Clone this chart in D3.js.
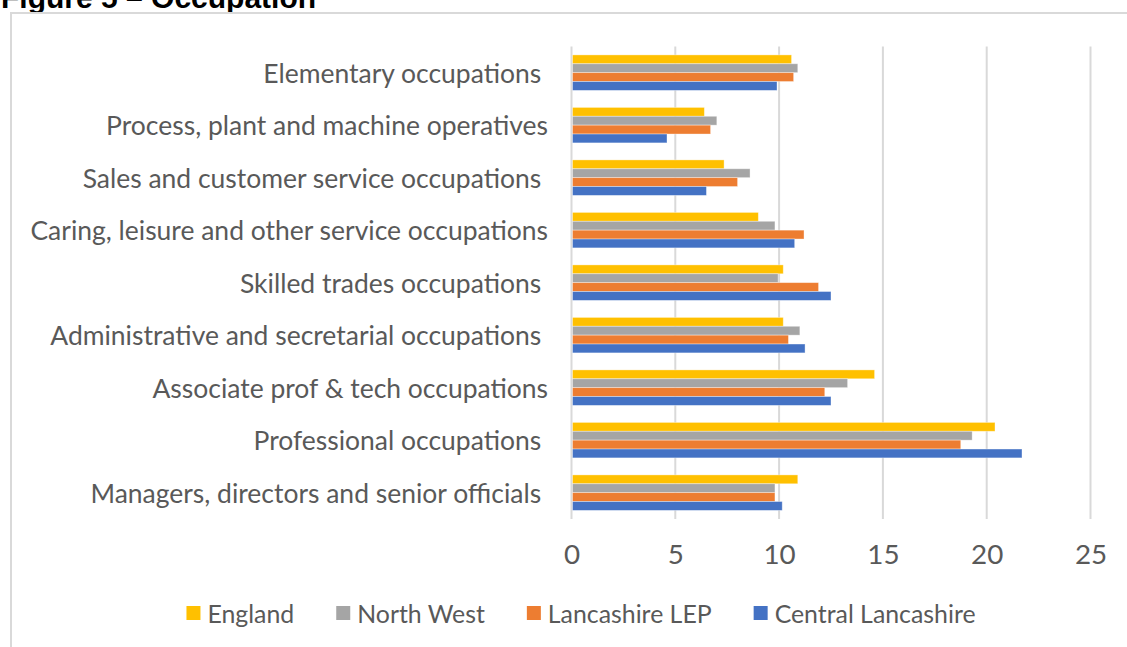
<!DOCTYPE html>
<html>
<head>
<meta charset="utf-8">
<script src="https://cdn.jsdelivr.net/npm/d3@7"></script>
<style>
  html, body { margin: 0; padding: 0; background: #fff; }
  svg { display: block; }
</style>
</head>
<body>
<div id="grafico"></div>
<script>
// Categories from top to bottom (trailing spaces as in the original labels)
const occupations = [
  "Elementary occupations ",
  "Process, plant and machine operatives",
  "Sales and customer service occupations ",
  "Caring, leisure and other service occupations",
  "Skilled trades occupations ",
  "Administrative and secretarial occupations ",
  "Associate prof & tech occupations",
  "Professional occupations ",
  "Managers, directors and senior officials ",
];

const seriesNames = ["England", "North West", "Lancashire LEP", "Central Lancashire"];

// Percent of employment, same order as occupations
const england = [10.6, 6.4, 7.35, 9.0, 10.2, 10.2, 14.6, 20.4, 10.9];
const northWest = [10.9, 7.0, 8.6, 9.8, 9.95, 11.0, 13.3, 19.3, 9.8];
const lancashireLEP = [10.7, 6.7, 8.0, 11.2, 11.9, 10.45, 12.2, 18.75, 9.8];
const centralLancashire = [9.9, 4.6, 6.5, 10.75, 12.5, 11.25, 12.5, 21.7, 10.15];

const xTicks = [0, 5, 10, 15, 20, 25];

const seriesValues = [england, northWest, lancashireLEP, centralLancashire];

const width = 1127;
const height = 647;
const labelFont = "Lato, 'Open Sans', sans-serif";
const textColor = "#595959";

const svg = d3
  .select("#grafico")
  .append("svg")
  .attr("width", width)
  .attr("height", height);

// Title (mostly cut off at the top of the picture)
svg
  .append("text")
  .attr("x", 1)
  .attr("y", 8)
  .text("Figure 5 \u2013 Occupation")
  .style("font-family", "'Liberation Sans', Arial, sans-serif")
  .style("font-weight", "bold")
  .style("font-size", "30px")
  .attr("fill", "#000");

// Chart frame (top and left edges only are visible)
svg
  .append("path")
  .attr("d", `M11,${height} V13 H${width}`)
  .attr("fill", "none")
  .attr("stroke", "#d9d9d9")
  .attr("stroke-width", 2);

const x = d3.scaleLinear().domain([0, 25]).range([571.5, 1090.5]);

const y0 = d3
  .scaleBand()
  .domain(occupations)
  .range([46.4, 518.9])
  .paddingInner(0.324)
  .paddingOuter(0.162);

const y1 = d3.scaleBand().domain(seriesNames).range([0, y0.bandwidth()]);

const color = d3
  .scaleOrdinal()
  .domain(seriesNames)
  .range(["#FFC000", "#A5A5A5", "#ED7D31", "#4472C4"]);

// Vertical gridlines
svg
  .append("g")
  .selectAll("line")
  .data(xTicks)
  .join("line")
  .attr("x1", (d) => x(d))
  .attr("x2", (d) => x(d))
  .attr("y1", y0.range()[0])
  .attr("y2", y0.range()[1])
  .attr("stroke", "#d9d9d9")
  .attr("stroke-width", 2);

// Bars
const rows = occupations.map((occ, i) => ({
  occ,
  values: seriesNames.map((s, j) => ({ serie: s, value: seriesValues[j][i] })),
}));

svg
  .append("g")
  .selectAll("g")
  .data(rows)
  .join("g")
  .attr("transform", (d) => `translate(0, ${y0(d.occ)})`)
  .selectAll("rect")
  .data((d) => d.values)
  .join("rect")
  .attr("x", x(0) + 1)
  .attr("y", (d) => y1(d.serie))
  .attr("width", (d) => x(d.value) - x(0) - 1)
  .attr("height", y1.bandwidth())
  .attr("fill", (d) => color(d.serie))
  .attr("stroke", "#fff")
  .attr("stroke-opacity", 0.45)
  .attr("stroke-width", 0.8);

// Category labels, sized so the widest one fits the original width
const labels = svg
  .append("g")
  .selectAll("text")
  .data(occupations)
  .join("text")
  .attr("x", 548)
  .attr("y", (d) => y0(d) + y0.bandwidth() / 2)
  .attr("text-anchor", "end")
  .attr("dominant-baseline", "central")
  .attr("fill", textColor)
  .style("white-space", "pre")
  .style("font-family", labelFont)
  .style("font-size", "20px")
  .text((d) => d);

const probe = labels.filter((d) => d.startsWith("Process")).node();
const labelSize = (20 * 442) / probe.getComputedTextLength();
labels.style("font-size", labelSize + "px");

// X axis tick labels
svg
  .append("g")
  .attr("transform", "translate(0, 554)")
  .call(d3.axisBottom(x).tickValues(xTicks).tickSize(0).tickPadding(0))
  .call((g) => g.select(".domain").remove())
  .selectAll("text")
  .attr("dy", "0.35em")
  .attr("fill", textColor)
  .style("font-family", labelFont)
  .style("font-size", labelSize * 1.05 + "px");

// Legend
const legend = svg.append("g").attr("transform", "translate(0, 613)");
const items = legend
  .selectAll("g")
  .data(seriesNames)
  .join("g");

items
  .append("rect")
  .attr("y", -7)
  .attr("width", 14)
  .attr("height", 14)
  .attr("fill", (d) => color(d));

const legendText = items
  .append("text")
  .attr("x", 21)
  .attr("dominant-baseline", "central")
  .attr("fill", textColor)
  .style("font-family", labelFont)
  .style("font-size", "20px")
  .text((d) => d);

// size legend text so "Central Lancashire" keeps its original width
const lastText = legendText.filter((d) => d === "Central Lancashire").node();
legendText.style("font-size", (20 * 201) / lastText.getComputedTextLength() + "px");

let pos = 0;
const offsets = [];
items.each(function () {
  offsets.push(pos);
  pos += 21 + d3.select(this).select("text").node().getComputedTextLength() + 42;
});
const legendWidth = pos - 42;
const legendStart = 581 - legendWidth / 2;
items.attr("transform", (d, i) => `translate(${legendStart + offsets[i]}, 0)`);
</script>
</body>
</html>
